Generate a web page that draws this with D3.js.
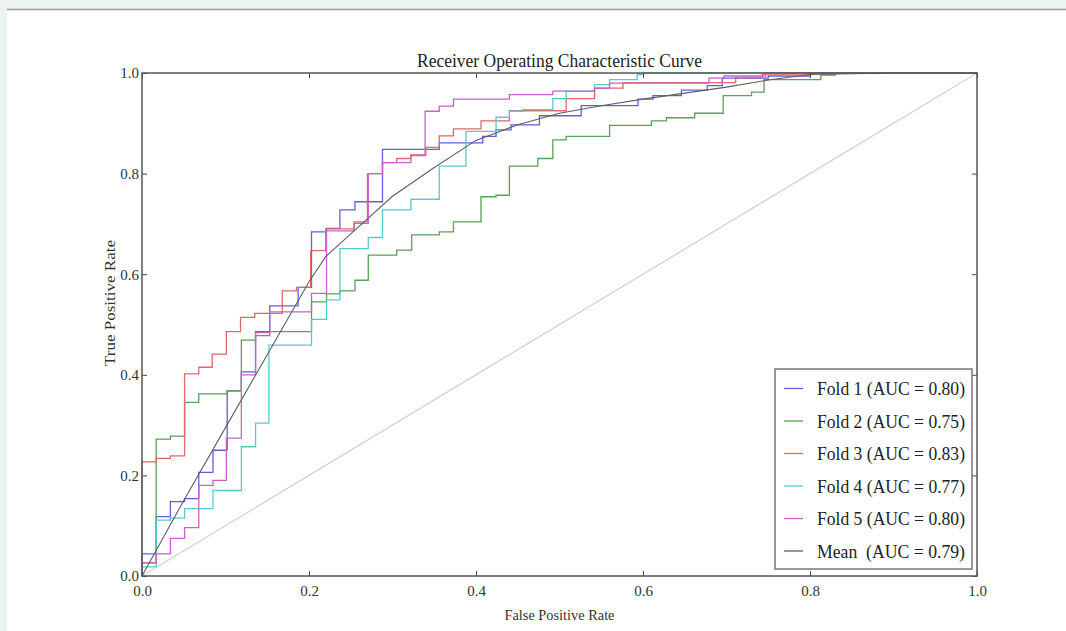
<!DOCTYPE html>
<html>
<head>
<meta charset="utf-8">
<script src="https://cdn.jsdelivr.net/npm/d3@7"></script>
<style>
    body { margin: 0; background: #edf3ee; }
    svg { display: block; }
    .tick text { font-family: "Liberation Serif", serif; font-size: 15px; fill: #333; }
    .tick line { stroke: #444; }
</style>
</head>
<body>
<div id="chart"></div>
<script>
// ROC points per fold: [false positive rate, true positive rate]
const fold1 = [[0,0],[0,0.044],[0.017,0.118],[0.034,0.148],[0.051,0.154],[0.068,0.206],[0.085,0.25],[0.102,0.368],[0.119,0.406],[0.136,0.486],[0.153,0.537],[0.187,0.574],[0.203,0.684],[0.221,0.691],[0.237,0.728],[0.255,0.744],[0.288,0.848],[0.356,0.861],[0.408,0.874],[0.424,0.887],[0.442,0.897],[0.476,0.915],[0.526,0.935],[0.594,0.948],[0.612,0.955],[0.646,0.966],[0.677,0.975],[0.695,0.99],[0.75,0.994],[0.8,1],[1,1]];
const fold2 = [[0,0],[0,0.026],[0.017,0.272],[0.034,0.278],[0.051,0.345],[0.068,0.362],[0.102,0.368],[0.119,0.469],[0.136,0.478],[0.153,0.486],[0.203,0.545],[0.221,0.561],[0.237,0.567],[0.255,0.588],[0.271,0.638],[0.305,0.648],[0.323,0.678],[0.356,0.684],[0.373,0.704],[0.406,0.754],[0.424,0.757],[0.44,0.815],[0.474,0.83],[0.492,0.867],[0.508,0.874],[0.56,0.896],[0.61,0.905],[0.628,0.911],[0.662,0.92],[0.696,0.955],[0.73,0.962],[0.745,0.987],[0.813,0.996],[0.83,1],[1,1]];
const fold3 = [[0,0],[0,0.227],[0.017,0.234],[0.034,0.239],[0.051,0.402],[0.068,0.415],[0.084,0.441],[0.101,0.486],[0.118,0.514],[0.135,0.522],[0.168,0.567],[0.185,0.574],[0.202,0.647],[0.22,0.69],[0.254,0.704],[0.27,0.8],[0.288,0.822],[0.305,0.83],[0.322,0.837],[0.34,0.852],[0.356,0.875],[0.373,0.889],[0.406,0.905],[0.44,0.925],[0.508,0.949],[0.542,0.97],[0.576,0.981],[0.711,0.991],[0.743,0.998],[0.8,1],[1,1]];
const fold4 = [[0,0],[0,0.018],[0.017,0.111],[0.034,0.115],[0.051,0.134],[0.085,0.17],[0.119,0.257],[0.136,0.304],[0.152,0.459],[0.203,0.51],[0.221,0.549],[0.237,0.651],[0.271,0.673],[0.288,0.728],[0.322,0.749],[0.356,0.815],[0.388,0.884],[0.424,0.912],[0.44,0.924],[0.456,0.927],[0.492,0.949],[0.508,0.964],[0.542,0.977],[0.56,0.987],[0.593,0.997],[0.6,1],[1,1]];
const fold5 = [[0,0],[0,0.026],[0.017,0.044],[0.034,0.075],[0.051,0.096],[0.068,0.18],[0.085,0.19],[0.101,0.274],[0.119,0.4],[0.136,0.484],[0.153,0.525],[0.203,0.562],[0.221,0.686],[0.254,0.701],[0.271,0.8],[0.288,0.822],[0.322,0.836],[0.339,0.924],[0.356,0.934],[0.373,0.948],[0.44,0.957],[0.492,0.964],[0.542,0.97],[0.56,0.98],[0.679,0.99],[0.697,0.994],[0.747,1],[1,1]];
const meanRoc = [[0,0],[0.05,0.15],[0.1,0.295],[0.15,0.44],[0.2,0.585],[0.22,0.635],[0.25,0.68],[0.3,0.755],[0.35,0.812],[0.4,0.866],[0.45,0.897],[0.5,0.92],[0.55,0.935],[0.6,0.948],[0.65,0.96],[0.7,0.972],[0.75,0.986],[0.8,0.997],[0.9,1],[1,1]];
const chance = [[0,0],[1,1]];

const labels = ["Fold 1 (AUC = 0.80)", "Fold 2 (AUC = 0.75)", "Fold 3 (AUC = 0.83)",
                "Fold 4 (AUC = 0.77)", "Fold 5 (AUC = 0.80)", "Mean  (AUC = 0.79)"];
const colors = ["#6060d8", "#5aa05a", "#e06868", "#55cccc", "#cc5fcc", "#606060"];
const ticks = [0, 0.2, 0.4, 0.6, 0.8, 1.0];

const W = 1066, H = 631;
const plot = { left: 142, right: 977, top: 73, bottom: 576 };

const svg = d3.select("#chart").append("svg")
    .attr("width", W)
    .attr("height", H);

// page panel like the screenshot
svg.append("rect").attr("x", 7).attr("y", 10).attr("width", W - 7).attr("height", H - 10).attr("fill", "#fff");
svg.append("line").attr("x1", 7).attr("x2", W).attr("y1", 9.5).attr("y2", 9.5)
    .attr("stroke", "#9a9a9a").attr("stroke-width", 1.5);

const x = d3.scaleLinear().domain([0, 1]).range([plot.left, plot.right]);
const y = d3.scaleLinear().domain([0, 1]).range([plot.bottom, plot.top]);

// diagonal
svg.append("path")
    .datum(chance)
    .attr("fill", "none")
    .attr("stroke", "#d0d0d0")
    .attr("stroke-width", 1.2)
    .attr("d", d3.line().x(d => x(d[0])).y(d => y(d[1])));

const stepLine = d3.line().x(d => x(d[0])).y(d => y(d[1])).curve(d3.curveStepAfter);
const folds = [fold1, fold2, fold3, fold4, fold5];
folds.forEach((f, i) => {
    svg.append("path")
        .datum(f)
        .attr("fill", "none")
        .attr("stroke", colors[i])
        .attr("stroke-width", 1.3)
        .attr("d", stepLine);
});

svg.append("path")
    .datum(meanRoc)
    .attr("fill", "none")
    .attr("stroke", colors[5])
    .attr("stroke-width", 1.1)
    .attr("d", d3.line().x(d => x(d[0])).y(d => y(d[1])));

// axes, ticks inward on all sides
const fmt = d3.format(".1f");
svg.append("g")
    .attr("transform", `translate(0,${plot.bottom})`)
    .call(d3.axisBottom(x).tickValues(ticks).tickFormat(fmt).tickSize(-5).tickPadding(9))
    .call(g => g.select(".domain").remove());
svg.append("g")
    .attr("transform", `translate(${plot.left},0)`)
    .call(d3.axisLeft(y).tickValues(ticks).tickFormat(fmt).tickSize(-5).tickPadding(3))
    .call(g => g.select(".domain").remove());
svg.append("g")
    .attr("transform", `translate(0,${plot.top})`)
    .call(d3.axisTop(x).tickValues(ticks).tickFormat("").tickSize(-5))
    .call(g => g.select(".domain").remove());
svg.append("g")
    .attr("transform", `translate(${plot.right},0)`)
    .call(d3.axisRight(y).tickValues(ticks).tickFormat("").tickSize(-5))
    .call(g => g.select(".domain").remove());

svg.append("rect")
    .attr("x", plot.left).attr("y", plot.top)
    .attr("width", plot.right - plot.left).attr("height", plot.bottom - plot.top)
    .attr("fill", "none").attr("stroke", "#555").attr("stroke-width", 1.5);

// title and axis labels
svg.append("text")
    .attr("x", (plot.left + plot.right) / 2).attr("y", 67)
    .attr("text-anchor", "middle")
    .style("font-family", "Liberation Serif, serif").style("font-size", "19px").style("fill", "#222")
    .attr("textLength", 285).attr("lengthAdjust", "spacingAndGlyphs")
    .text("Receiver Operating Characteristic Curve");

svg.append("text")
    .attr("x", (plot.left + plot.right) / 2).attr("y", 620)
    .attr("text-anchor", "middle")
    .style("font-family", "Liberation Serif, serif").style("font-size", "15px").style("fill", "#333")
    .attr("textLength", 110).attr("lengthAdjust", "spacingAndGlyphs")
    .text("False Positive Rate");

svg.append("text")
    .attr("transform", "translate(115,303) rotate(-90)")
    .attr("text-anchor", "middle")
    .style("font-family", "Liberation Serif, serif").style("font-size", "15px").style("fill", "#333")
    .attr("textLength", 126).attr("lengthAdjust", "spacingAndGlyphs")
    .text("True Positive Rate");

// legend
const legend = svg.append("g").attr("transform", "translate(775,369)");
legend.append("rect")
    .attr("width", 197).attr("height", 200)
    .attr("fill", "#fff").attr("stroke", "#777").attr("stroke-width", 1.5);
labels.forEach((lab, i) => {
    const ly = 19.5 + i * 32.5;
    legend.append("line")
        .attr("x1", 9).attr("x2", 28).attr("y1", ly).attr("y2", ly)
        .attr("stroke", colors[i]).attr("stroke-width", 1.3);
    legend.append("text")
        .attr("x", 42).attr("y", ly + 6.5)
        .style("font-family", "Liberation Serif, serif").style("font-size", "19px").style("fill", "#222")
        .style("white-space", "pre")
        .attr("textLength", 148).attr("lengthAdjust", "spacingAndGlyphs")
        .text(lab);
});
</script>
</body>
</html>
